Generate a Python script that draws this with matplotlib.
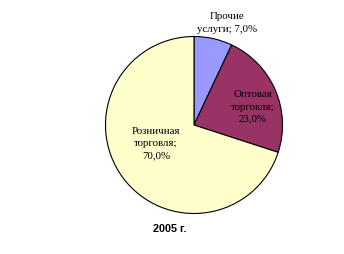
import matplotlib
matplotlib.use("Agg")
import matplotlib.pyplot as plt

categories = ["Прочие\nуслуги", "Оптовая\nторговля", "Розничная\nторговля"]
values = [7.0, 23.0, 70.0]
colors = ["#9999FF", "#993366", "#FFFFCC"]
title = "2005 г."

fig = plt.figure(figsize=(3.44, 2.54), dpi=100)
ax = fig.add_axes([0, 0, 1, 1])

cx, cy, r = 194, 254 - 125, 88.5
wedges, _ = ax.pie(values, colors=colors, startangle=90, counterclock=False,
                   center=(cx, cy), radius=r, frame=True,
                   wedgeprops=dict(edgecolor="black", linewidth=0.8))
ax.set_xlim(0, 344)
ax.set_ylim(0, 254)
ax.set_aspect("equal")
ax.axis("off")

def fmt(v):
    return f"{v:.1f}%".replace(".", ",")

label_pos = [(227, 254 - 23), (253, 254 - 107), (156, 254 - 144)]
layouts = [
    lambda c, v: c + "; " + fmt(v),
    lambda c, v: c + ";\n" + fmt(v),
    lambda c, v: c + ";\n" + fmt(v),
]
for (x, y), c, v, f in zip(label_pos, categories, values, layouts):
    ax.text(x, y, f(c, v), ha="center", va="center", fontsize=7.8,
            family="Liberation Serif", linespacing=1.45)

ax.text(170, 254 - 229, title, ha="center", va="center", fontsize=7.8,
        fontweight="bold", family="Liberation Sans")

fig.savefig("out.png", dpi=100)
